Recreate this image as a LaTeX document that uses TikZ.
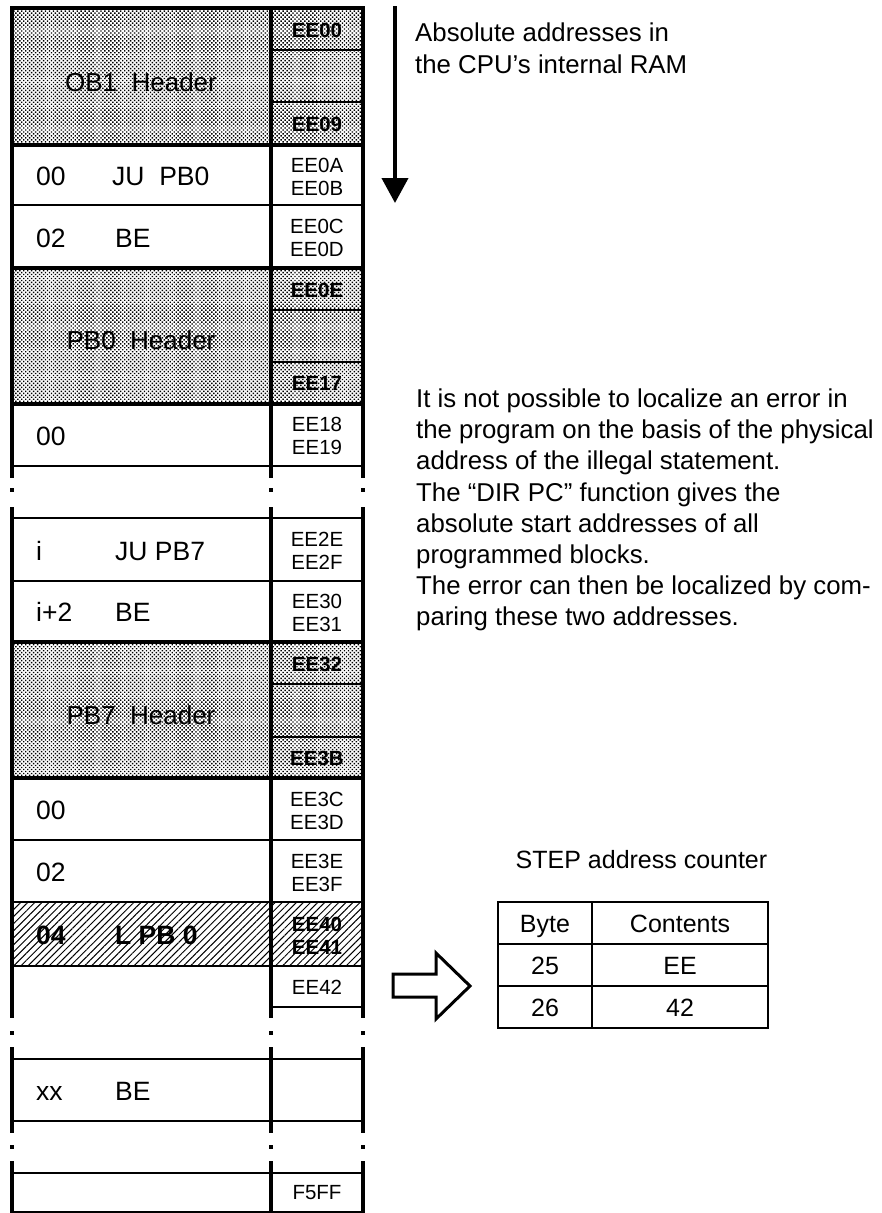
\documentclass[tikz,border=0pt]{standalone}
\usepackage{fontspec}
\setmainfont{Liberation Sans}
\usetikzlibrary{arrows.meta,patterns.meta}
\begin{document}
\begin{tikzpicture}[x=1pt,y=-1pt,
  vline/.style={line width=4pt},
  thickh/.style={line width=3.5pt},
  thinh/.style={line width=2pt},
  hdrfill/.style={pattern={Dots[distance=2.8pt,radius=1pt,angle=45]}},
  hatchfill/.style={pattern={Lines[angle=45,distance=5pt,line width=1pt]}},
  lbl/.style={inner sep=0pt,anchor=base west,font=\fontsize{26.5}{30}\selectfont},
  blbl/.style={lbl,font=\fontsize{26.5}{30}\selectfont\bfseries},
  hdr/.style={inner sep=0pt,font=\fontsize{26}{30}\selectfont},
  addr/.style={inner sep=0pt,align=center,font=\fontsize{20.5}{22.5}\selectfont},
  baddr/.style={addr,font=\fontsize{20.5}{22.5}\selectfont\bfseries},
  para/.style={inner sep=0pt,anchor=north west,align=left,font=\fontsize{25.8}{31.2}\selectfont},
  tbl/.style={inner sep=0pt,anchor=base,font=\fontsize{25}{30}\selectfont},
  gapdot/.style={fill=black},
  hollow/.style={line width=3pt,line join=miter,fill=white}
]
\path[fill=white] (0,0) rectangle (882,1213);
\useasboundingbox (0,0) rectangle (882,1213);

% ---------- fills ----------
\path[hdrfill] (12,8) rectangle (363,145);
\path[hdrfill] (12,268) rectangle (363,404);
\path[hdrfill] (12,642) rectangle (363,778);
\path[hatchfill] (12,902) rectangle (363,966);

% ---------- horizontal lines ----------
\foreach \y in {8,145,268,404,642,778} \draw[thickh] (10,\y) -- (365,\y);
\foreach \y in {205,466,518,581,840,902,966,1059,1121,1173,1212} \draw[thinh] (10,\y) -- (365,\y);
\foreach \y in {50,102,310,362,684,737,1007} \draw[thinh] (271,\y) -- (363,\y);

% ---------- vertical lines with gaps ----------
\foreach \x in {12,271,363} {
  \draw[vline] (\x,6) -- (\x,478);
  \draw[vline] (\x,507) -- (\x,1018);
  \draw[vline] (\x,1047) -- (\x,1133);
  \draw[vline] (\x,1161) -- (\x,1213);
  \foreach \d in {490,1033,1147} \fill[gapdot] (\x,\d) +(-2,-2.2) rectangle +(2,2.2);
}

% ---------- header labels ----------
\node[hdr] (ob1) at (141,82) {OB1\ \ Header};
\node[hdr] (pb0h) at (141,340) {PB0\ \ Header};
\node[hdr] (pb7h) at (141,715) {PB7\ \ Header};

% ---------- left column statements ----------
\node[lbl] (r1a) at (36,185) {00};
\node[lbl] (r1b) at (112,185) {JU\ \ PB0};
\node[lbl] (r2a) at (36,247) {02};
\node[lbl] (r2b) at (115,247) {BE};
\node[lbl] (r3a) at (36,445) {00};
\node[lbl] (r4a) at (36,560) {i};
\node[lbl] (r4b) at (115,560) {JU PB7};
\node[lbl] (r5a) at (36,621) {i+2};
\node[lbl] (r5b) at (115,621) {BE};
\node[lbl] (r6a) at (36,819) {00};
\node[lbl] (r7a) at (36,881) {02};
\node[blbl] (r8a) at (36,944) {04};
\node[blbl] (r8b) at (115,944) {L PB 0};
\node[lbl] (r9a) at (36,1100) {xx};
\node[lbl] (r9b) at (115,1100) {BE};

% ---------- addresses ----------
\node[baddr] (aee00) at (317,30) {EE00};
\node[baddr] (aee09) at (317,124) {EE09};
\node[addr] (aee0a) at (317,177) {EE0A\\EE0B};
\node[addr] (aee0c) at (317,238) {EE0C\\EE0D};
\node[baddr] (aee0e) at (317,290) {EE0E};
\node[baddr] (aee17) at (317,383) {EE17};
\node[addr] (aee18) at (317,436) {EE18\\EE19};
\node[addr] (aee2e) at (317,551) {EE2E\\EE2F};
\node[addr] (aee30) at (317,613) {EE30\\EE31};
\node[baddr] (aee32) at (317,664) {EE32};
\node[baddr] (aee3b) at (317,758) {EE3B};
\node[addr] (aee3c) at (317,811) {EE3C\\EE3D};
\node[addr] (aee3e) at (317,873) {EE3E\\EE3F};
\node[baddr] (aee40) at (317,936) {EE40\\EE41};
\node[addr] (aee42) at (317,987) {EE42};
\node[addr] (af5ff) at (317,1193) {F5FF};

% ---------- direction arrow and caption ----------
\coordinate (dtop) at (395,6);
\coordinate (dbot) at (395,203);
\draw[line width=4pt,-{Triangle[width=26pt,length=25pt]}] (dtop) -- (dbot);
\node[para] (cap) at (415,23) {Absolute addresses in\\the CPU’s internal RAM};

% ---------- explanation ----------
\node[para] (expl) at (416,388.5) {It is not possible to localize an error in\\
the program on the basis of the physical\\
address of the illegal statement.\\
The “DIR PC” function gives the\\
absolute start addresses of all\\
programmed blocks.\\
The error can then be localized by com-\\
paring these two addresses.};

% ---------- hollow arrow ----------
\coordinate (h1) at (393,974);
\coordinate (h2) at (436,974);
\coordinate (h3) at (436,953);
\coordinate (h4) at (470,986);
\coordinate (h5) at (436,1019);
\coordinate (h6) at (436,997);
\coordinate (h7) at (393,997);
\draw[hollow] (h1) -- (h2) -- (h3) -- (h4) -- (h5) -- (h6) -- (h7) -- cycle;

% ---------- STEP address counter table ----------
\node[tbl] (steptitle) at (641.5,868) {STEP address counter};
\draw[line width=2pt] (498,902) rectangle (768,1028);
\draw[line width=2pt] (592,902) -- (592,1028);
\draw[line width=2pt] (498,944) -- (768,944);
\draw[line width=2pt] (498,986) -- (768,986);
\node[tbl] (tb1) at (545,932) {Byte};
\node[tbl] (tc1) at (680,932) {Contents};
\node[tbl] (tb2) at (545,974) {25};
\node[tbl] (tc2) at (680,974) {EE};
\node[tbl] (tb3) at (545,1016) {26};
\node[tbl] (tc3) at (680,1016) {42};
\end{tikzpicture}
\end{document}
